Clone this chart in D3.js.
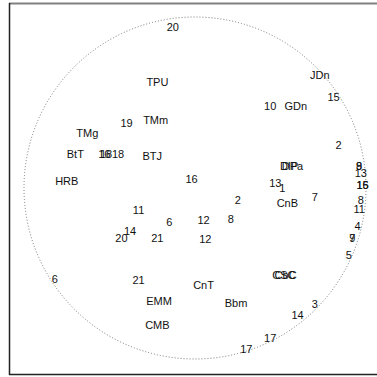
<!DOCTYPE html>
<html>
<head>
<meta charset="utf-8">
<script src="https://cdn.jsdelivr.net/npm/d3@7"></script>
<style>
  html, body { margin: 0; padding: 0; background: #fff; }
  svg { display: block; }
  text { font-family: "Liberation Sans", Arial, sans-serif; font-size: 11px; fill: #111; }
</style>
</head>
<body>
<svg id="chart" width="377" height="377"></svg>
<script>
// Variable and site labels on the correlation circle (unit radius)
const labels = ["20","TPU","TMm","19","TMg","BtT","16","18","18","BTJ","HRB","16",
  "11","6","14","20","21","12","8","2","12","6","21","EMM","CMB","CnT","Bbm",
  "CSC","CbC","14","3","17","17","JDn","15","10","GDn","2","DIP","DPa","13","1",
  "CnB","7","9","8","13","16","15","8","11","4","9","7","5"];
const xs = [-0.13,-0.22,-0.23,-0.40,-0.63,-0.70,-0.53,-0.52,-0.45,-0.25,-0.75,-0.02,
  -0.33,-0.15,-0.38,-0.43,-0.22,0.05,0.21,0.25,0.06,-0.82,-0.33,-0.21,-0.22,0.05,0.24,
  0.52,0.53,0.60,0.70,0.44,0.30,0.73,0.81,0.44,0.59,0.84,0.55,0.57,0.47,0.51,
  0.54,0.70,0.96,0.96,0.97,0.98,0.98,0.97,0.96,0.95,0.92,0.92,0.90];
const ys = [0.94,0.62,0.40,0.38,0.32,0.20,0.20,0.20,0.20,0.19,0.04,0.05,
  -0.13,-0.20,-0.25,-0.29,-0.29,-0.19,-0.18,-0.07,-0.30,-0.53,-0.54,-0.66,-0.80,-0.57,-0.67,
  -0.51,-0.51,-0.74,-0.68,-0.88,-0.94,0.66,0.53,0.48,0.48,0.25,0.13,0.13,0.03,0.00,
  -0.09,-0.05,0.13,0.13,0.09,0.02,0.02,-0.07,-0.12,-0.22,-0.29,-0.29,-0.39];

const svg = d3.select("#chart");
const x = d3.scaleLinear().domain([-1, 1]).range([24, 366]);
const y = d3.scaleLinear().domain([-1, 1]).range([359, 17]);

// Frame
const frame = svg.append("g");
frame.append("line").attr("x1", 9).attr("x2", 377).attr("y1", 3.5).attr("y2", 3.5)
  .attr("stroke", "#808080").attr("stroke-width", 2);
frame.append("line").attr("x1", 9.5).attr("x2", 9.5).attr("y1", 3).attr("y2", 375)
  .attr("stroke", "#222").attr("stroke-width", 1.5);
frame.append("line").attr("x1", 9).attr("x2", 377).attr("y1", 374.5).attr("y2", 374.5)
  .attr("stroke", "#222").attr("stroke-width", 1.5);

// Unit circle, dotted
svg.append("circle")
  .attr("cx", x(0)).attr("cy", y(0))
  .attr("r", x(1) - x(0))
  .attr("fill", "none")
  .attr("stroke", "#777")
  .attr("stroke-width", 1)
  .attr("stroke-dasharray", "1,2");

// Point labels
const data = labels.map((l, i) => ({ label: l, x: xs[i], y: ys[i] }));
svg.append("g").selectAll("text").data(data).join("text")
  .attr("x", d => x(d.x))
  .attr("y", d => y(d.y))
  .attr("text-anchor", "middle")
  .attr("dominant-baseline", "central")
  .text(d => d.label);
</script>
</body>
</html>
